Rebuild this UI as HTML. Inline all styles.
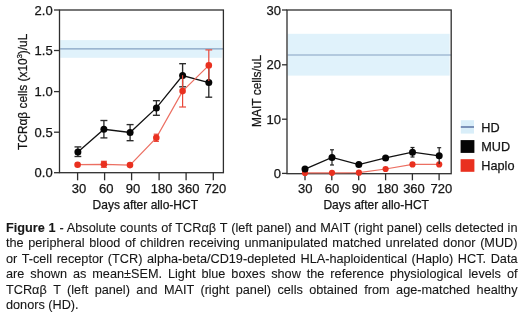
<!DOCTYPE html>
<html><head><meta charset="utf-8">
<style>
html,body{margin:0;padding:0;background:#fff;}
.cap,svg text{filter:grayscale(1);}
body{width:520px;height:315px;overflow:hidden;position:relative;font-family:"Liberation Sans",sans-serif;}
svg{position:absolute;left:0;top:0;}
svg text{font-family:"Liberation Sans",sans-serif;fill:#141414;stroke:#141414;stroke-width:0.25px;}
.cap{position:absolute;left:6px;width:511.5px;font-size:12.7px;line-height:15.4px;color:#161616;-webkit-text-stroke:0.1px #161616;white-space:nowrap;text-align:justify;}
</style></head><body>
<svg width="520" height="215" viewBox="0 0 520 215">
<rect x="60.2" y="40.1" width="161.6" height="17.699999999999996" fill="#e0f2fb"/>
<line x1="60.2" y1="48.8" x2="223.4" y2="48.8" stroke="#84a0c2" stroke-width="1.2"/>
<g stroke="#2e2e2e" stroke-width="1.3" fill="none"><rect x="59.5" y="10" width="163.9" height="162.7"/><line x1="54" y1="10" x2="59.5" y2="10"/><line x1="54" y1="50.5" x2="59.5" y2="50.5"/><line x1="54" y1="91.6" x2="59.5" y2="91.6"/><line x1="54" y1="132.2" x2="59.5" y2="132.2"/><line x1="54" y1="172.7" x2="59.5" y2="172.7"/><line x1="77.6" y1="172.7" x2="77.6" y2="180.3"/><line x1="104.6" y1="172.7" x2="104.6" y2="180.3"/><line x1="131.6" y1="172.7" x2="131.6" y2="180.3"/><line x1="159.1" y1="172.7" x2="159.1" y2="180.3"/><line x1="186.1" y1="172.7" x2="186.1" y2="180.3"/><line x1="213.3" y1="172.7" x2="213.3" y2="180.3"/></g>
<g font-size="13" text-anchor="end"><text x="52.7" y="14.5">2.0</text><text x="52.7" y="55.0">1.5</text><text x="52.7" y="96.1">1.0</text><text x="52.7" y="136.7">0.5</text><text x="52.7" y="177.2">0.0</text></g>
<g font-size="13" text-anchor="middle"><text x="79" y="193">30</text><text x="106.3" y="193">60</text><text x="133.1" y="193">90</text><text x="161.7" y="193">180</text><text x="188.6" y="193">360</text><text x="215.3" y="193">720</text></g>
<text font-size="12.2" text-anchor="middle" x="145.3" y="208.6" textLength="105.5" lengthAdjust="spacingAndGlyphs">Days after allo-HCT</text>
<text font-size="12.6" text-anchor="middle" transform="translate(26.7,91.8) rotate(-90)" textLength="116.2" lengthAdjust="spacingAndGlyphs">TCRαβ cells (x10<tspan font-size="8" dy="-4.5">3</tspan><tspan dy="4.5">)/uL</tspan></text>
<polyline points="77.9,151.9 103.9,129.3 130.1,132.5 156.4,107.9 182.6,75.5 208.8,82.6" stroke="#111" stroke-width="1.3" fill="none"/>
<g stroke="#2c2c2c" stroke-width="1.35" fill="none"><line x1="77.9" y1="146.9" x2="77.9" y2="156.5"/><line x1="74.5" y1="146.9" x2="81.30000000000001" y2="146.9"/><line x1="74.5" y1="156.5" x2="81.30000000000001" y2="156.5"/><line x1="103.9" y1="120.5" x2="103.9" y2="137.9"/><line x1="100.4" y1="120.5" x2="107.4" y2="120.5"/><line x1="100.4" y1="137.9" x2="107.4" y2="137.9"/><line x1="130.1" y1="124.6" x2="130.1" y2="140.7"/><line x1="126.6" y1="124.6" x2="133.6" y2="124.6"/><line x1="126.6" y1="140.7" x2="133.6" y2="140.7"/><line x1="156.4" y1="100.7" x2="156.4" y2="115.3"/><line x1="152.9" y1="100.7" x2="159.9" y2="100.7"/><line x1="152.9" y1="115.3" x2="159.9" y2="115.3"/><line x1="182.6" y1="63.7" x2="182.6" y2="86.8"/><line x1="179.2" y1="63.7" x2="186.0" y2="63.7"/><line x1="179.2" y1="86.8" x2="186.0" y2="86.8"/><line x1="208.8" y1="68.5" x2="208.8" y2="97.2"/><line x1="205.4" y1="97.2" x2="212.20000000000002" y2="97.2"/></g>
<g fill="#050505"><circle cx="77.9" cy="151.9" r="3.5"/><circle cx="103.9" cy="129.3" r="3.5"/><circle cx="130.1" cy="132.5" r="3.5"/><circle cx="156.4" cy="107.9" r="3.5"/><circle cx="182.6" cy="75.5" r="3.5"/><circle cx="208.8" cy="82.6" r="3.5"/></g>
<polyline points="77.6,164.7 103.9,164.3 130,165.1 156.3,137.8 182.6,91.1 208.8,65.4" stroke="#ec6f62" stroke-width="1.2" fill="none"/>
<g stroke="#e9483a" stroke-width="1.2" fill="none"><line x1="103.9" y1="161.3" x2="103.9" y2="167.3"/><line x1="100.9" y1="161.3" x2="106.9" y2="161.3"/><line x1="100.9" y1="167.3" x2="106.9" y2="167.3"/><line x1="156.3" y1="134.2" x2="156.3" y2="141.4"/><line x1="153.70000000000002" y1="134.2" x2="158.9" y2="134.2"/><line x1="153.70000000000002" y1="141.4" x2="158.9" y2="141.4"/><line x1="182.6" y1="75.3" x2="182.6" y2="107"/><line x1="179.2" y1="107" x2="186.0" y2="107"/><line x1="208.8" y1="49.9" x2="208.8" y2="81"/><line x1="205.4" y1="49.9" x2="212.20000000000002" y2="49.9"/></g>
<g fill="#e9301f"><circle cx="77.6" cy="164.7" r="3.3"/><circle cx="103.9" cy="164.3" r="3.3"/><circle cx="130" cy="165.1" r="3.3"/><circle cx="156.3" cy="137.8" r="3.3"/><circle cx="182.6" cy="91.1" r="3.3"/><circle cx="208.8" cy="65.4" r="3.3"/></g>
<rect x="287.7" y="33.8" width="161.89999999999998" height="41.8" fill="#e0f2fb"/>
<line x1="287.7" y1="55" x2="451.2" y2="55" stroke="#84a0c2" stroke-width="1.2"/>
<g stroke="#2e2e2e" stroke-width="1.3" fill="none"><rect x="287" y="10" width="164.2" height="163.7"/><line x1="282" y1="10" x2="287" y2="10"/><line x1="282" y1="64.8" x2="287" y2="64.8"/><line x1="282" y1="119.2" x2="287" y2="119.2"/><line x1="282" y1="173.4" x2="287" y2="173.4"/><line x1="305" y1="173.7" x2="305" y2="180.3"/><line x1="331.8" y1="173.7" x2="331.8" y2="180.3"/><line x1="358.7" y1="173.7" x2="358.7" y2="180.3"/><line x1="385.6" y1="173.7" x2="385.6" y2="180.3"/><line x1="412.4" y1="173.7" x2="412.4" y2="180.3"/><line x1="439.1" y1="173.7" x2="439.1" y2="180.3"/></g>
<g font-size="13" text-anchor="end"><text x="281" y="14.5">30</text><text x="281" y="69.3">20</text><text x="281" y="123.7">10</text><text x="281" y="177.9">0</text></g>
<g font-size="13" text-anchor="middle"><text x="305.2" y="193">30</text><text x="332" y="193">60</text><text x="358.9" y="193">90</text><text x="387.6" y="193">180</text><text x="414" y="193">360</text><text x="441.3" y="193">720</text></g>
<text font-size="12.2" text-anchor="middle" x="376.2" y="208.6" textLength="105.5" lengthAdjust="spacingAndGlyphs">Days after allo-HCT</text>
<text font-size="12.6" text-anchor="middle" transform="translate(261,90.9) rotate(-90)" textLength="72" lengthAdjust="spacingAndGlyphs">MAIT cells/uL</text>
<polyline points="305,172.9 332,172.8 358.9,172.7 385.6,169 412.5,164.4 439.2,164.4" stroke="#ec6f62" stroke-width="1.2" fill="none"/>
<g stroke="#e9483a" stroke-width="1.2" fill="none"></g>
<g fill="#e9301f"><circle cx="305" cy="172.9" r="3.1"/><circle cx="332" cy="172.8" r="3.1"/><circle cx="358.9" cy="172.7" r="3.1"/><circle cx="385.6" cy="169" r="3.1"/><circle cx="412.5" cy="164.4" r="3.1"/><circle cx="439.2" cy="164.4" r="3.1"/></g>
<polyline points="305,169.1 332,157.4 358.8,164.6 385.6,157.9 412.5,152.2 439.2,155.8" stroke="#111" stroke-width="1.3" fill="none"/>
<g stroke="#222" stroke-width="1.2" fill="none"><line x1="332" y1="149.8" x2="332" y2="165"/><line x1="330.0" y1="149.8" x2="334.0" y2="149.8"/><line x1="330.0" y1="165" x2="334.0" y2="165"/><line x1="412.5" y1="147.5" x2="412.5" y2="157"/><line x1="410.5" y1="147.5" x2="414.5" y2="147.5"/><line x1="410.5" y1="157" x2="414.5" y2="157"/><line x1="439.2" y1="147.7" x2="439.2" y2="164"/><line x1="437.2" y1="147.7" x2="441.2" y2="147.7"/></g>
<g fill="#050505"><circle cx="305" cy="169.1" r="3.5"/><circle cx="332" cy="157.4" r="3.5"/><circle cx="358.8" cy="164.6" r="3.5"/><circle cx="385.6" cy="157.9" r="3.5"/><circle cx="412.5" cy="152.2" r="3.5"/><circle cx="439.2" cy="155.8" r="3.5"/></g>

  <rect x="460.8" y="120.2" width="13.2" height="13.4" fill="#d9eef9"/>
  <line x1="460.8" y1="127" x2="474" y2="127" stroke="#5a72a2" stroke-width="1.5"/>
  <rect x="460.6" y="140.1" width="13.8" height="12.8" fill="#050505"/>
  <rect x="460.6" y="159.2" width="13.8" height="12.6" fill="#e9301f"/>
  <g font-size="12.7">
    <text x="481.3" y="131.8">HD</text>
    <text x="481.3" y="151.1">MUD</text>
    <text x="481.3" y="170.2">Haplo</text>
  </g>
</svg>
<div class="cap" style="top:221.0px;text-align-last:justify"><b>Figure 1</b> - Absolute counts of TCRαβ T (left panel) and MAIT (right panel) cells detected in</div>
<div class="cap" style="top:236.4px;text-align-last:justify">the peripheral blood of children receiving unmanipulated matched unrelated donor (MUD)</div>
<div class="cap" style="top:251.8px;text-align-last:justify">or T-cell receptor (TCR) alpha-beta/CD19-depleted HLA-haploidentical (Haplo) HCT. Data</div>
<div class="cap" style="top:267.2px;text-align-last:justify">are shown as mean±SEM. Light blue boxes show the reference physiological levels of</div>
<div class="cap" style="top:282.6px;text-align-last:justify">TCRαβ T (left panel) and MAIT (right panel) cells obtained from age-matched healthy</div>
<div class="cap" style="top:298.0px;text-align-last:left">donors (HD).</div>
</body></html>
